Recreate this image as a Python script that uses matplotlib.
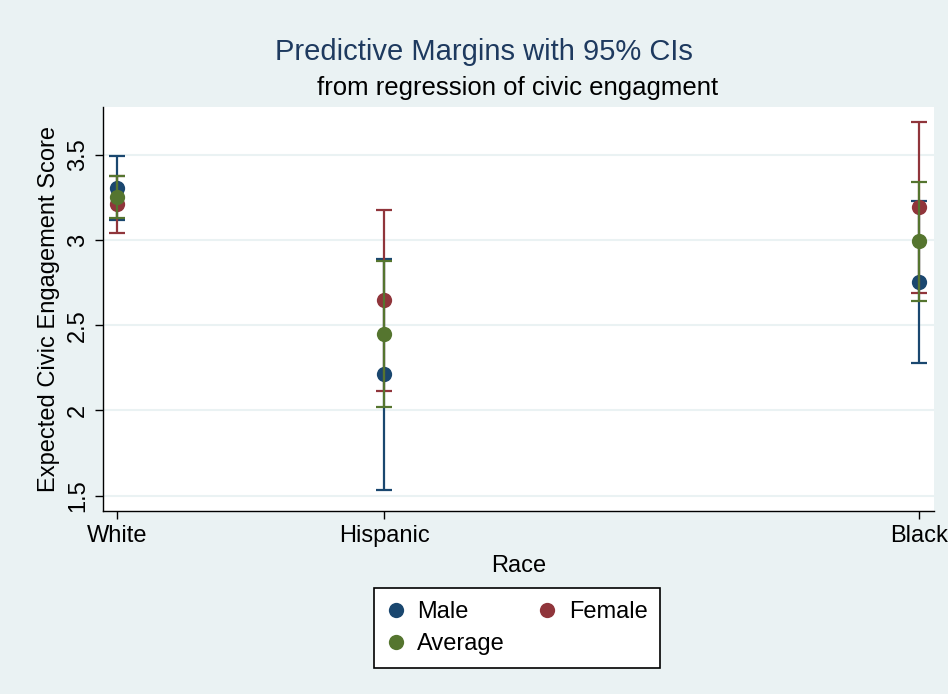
import matplotlib
matplotlib.use("Agg")
import matplotlib.pyplot as plt
from matplotlib.lines import Line2D

plt.rcParams['font.family'] = ['Liberation Sans', 'DejaVu Sans']

categories = ["White", "Hispanic", "Black"]
cat_pos = [1, 2, 4]
series = ["Male", "Female", "Average"]
colors = {"Male": "#1A476F", "Female": "#90353B", "Average": "#55752F"}

male_est = [3.305, 2.213, 2.753]
male_lo = [3.115, 1.535, 2.280]
male_hi = [3.490, 2.888, 3.226]

female_est = [3.210, 2.645, 3.192]
female_lo = [3.040, 2.114, 2.688]
female_hi = [3.375, 3.175, 3.692]

avg_est = [3.255, 2.448, 2.993]
avg_lo = [3.127, 2.022, 2.643]
avg_hi = [3.373, 2.874, 3.343]

data = {
    "Male": (male_est, male_lo, male_hi),
    "Female": (female_est, female_lo, female_hi),
    "Average": (avg_est, avg_lo, avg_hi),
}

yticks = [1.5, 2, 2.5, 3, 3.5]
ytick_labels = ["1.5", "2", "2.5", "3", "3.5"]

bg = "#EAF2F3"
fig = plt.figure(figsize=(9.48, 6.94), dpi=100, facecolor=bg)
ax = fig.add_axes([0.1087, 0.2637, 0.8763, 0.5821])
ax.set_facecolor("white")

z = 3
for s in series:
    est, lo, hi = data[s]
    yerr = [[e - l for e, l in zip(est, lo)], [h - e for e, h in zip(est, hi)]]
    ax.errorbar(cat_pos, est, yerr=yerr, fmt="none", ecolor=colors[s],
                elinewidth=1.6, capsize=6, capthick=1.6, zorder=z)
    ax.plot(cat_pos, est, "o", color=colors[s], markersize=11, markeredgewidth=0, zorder=z + 0.5)
    z += 1

ax.set_xlim(0.948, 4.056)
ax.set_ylim(1.41, 3.78)
ax.set_xticks(cat_pos)
ax.set_xticklabels(categories, fontsize=17)
ax.set_yticks(yticks)
ax.set_yticklabels(ytick_labels, fontsize=17, rotation=90, va="center")
ax.grid(axis="y", color=bg, linewidth=1.5, zorder=0)
ax.set_axisbelow(True)
for sp in ["top", "right"]:
    ax.spines[sp].set_visible(False)
for sp in ["left", "bottom"]:
    ax.spines[sp].set_color("black")
    ax.spines[sp].set_linewidth(1.0)
ax.tick_params(axis="both", direction="out", length=6, width=1, color="black", pad=4)

ax.set_xlabel("Race", fontsize=17, labelpad=6)
ax.set_ylabel("Expected Civic Engagement Score", fontsize=17, labelpad=5)

fig.text(484 / 948, 1 - 52 / 694, "Predictive Margins with 95% CIs", fontsize=21,
         color="#1E3A5F", ha="center", va="center")
fig.text(518 / 948, 1 - 88 / 694, "from regression of civic engagment", fontsize=18.5,
         color="black", ha="center", va="center")

handles = [Line2D([], [], marker="o", linestyle="none", color=colors[s], markersize=11,
                  markeredgewidth=0) for s in ["Male", "Average", "Female"]]
labels = ["Male", "Average", "Female"]
leg = fig.legend(handles, labels, ncol=2, loc="center", bbox_to_anchor=(517 / 948, 1 - 628 / 694),
                 fontsize=17, frameon=True, fancybox=False, edgecolor="black", facecolor="white",
                 framealpha=1, handletextpad=0.5, columnspacing=1.4, handlelength=0.8,
                 borderpad=0.55, labelspacing=0.42, borderaxespad=0)
leg.get_frame().set_linewidth(1.2)

fig.savefig("out.png", dpi=100, facecolor=bg)
